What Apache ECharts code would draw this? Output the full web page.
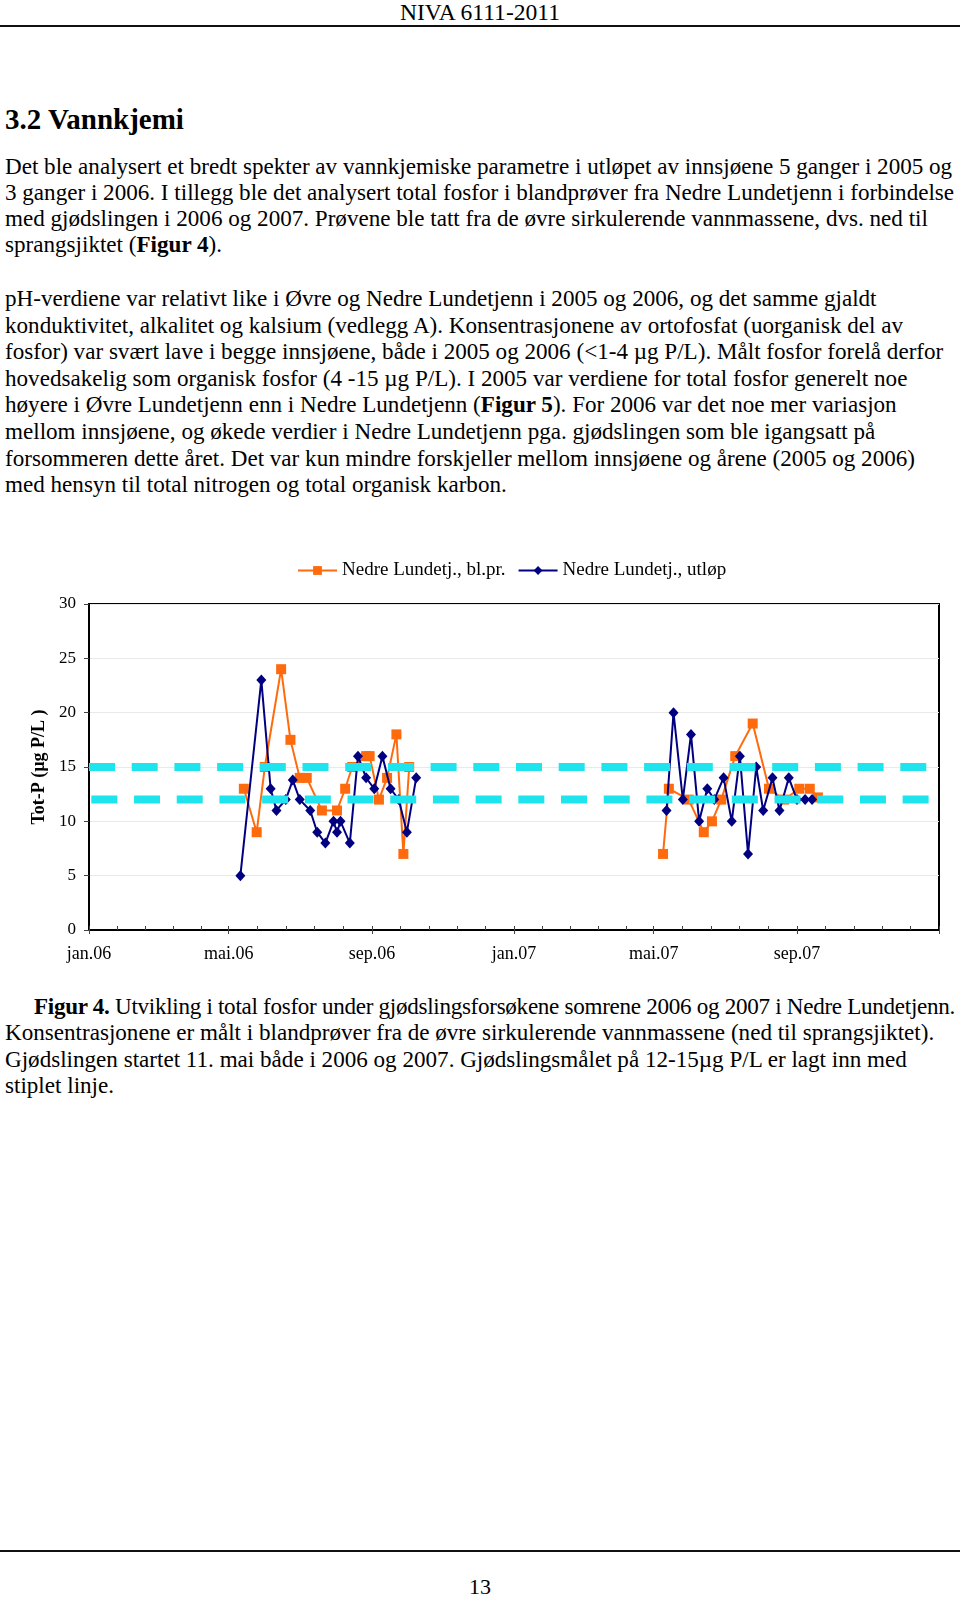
<!DOCTYPE html>
<html>
<head>
<meta charset="utf-8">
<script src="https://cdn.jsdelivr.net/npm/echarts@6/dist/echarts.min.js"></script>
<style>
  html, body { margin: 0; padding: 0; background: #fff; }
  body { width: 960px; height: 1597px; position: relative; overflow: hidden;
         font-family: 'Liberation Serif', 'Times New Roman', serif; color: #000; }
  .t { position: absolute; white-space: pre; font-size: 23.1px; }
  .rule { position: absolute; left: 0; width: 960px; height: 2px; background: #111; }
  #chart { position: absolute; left: 0; top: 540px; width: 960px; height: 440px; }
</style>
</head>
<body>
<div class="t" style="left:0;width:960px;text-align:center;top:-1px;line-height:26px;font-size:23.6px;">NIVA 6111-2011</div>
<div class="rule" style="top:25px;"></div>

<div class="t" style="left:5px;top:103px;font-size:29px;font-weight:bold;line-height:33px;">3.2 Vannkjemi</div>

<div class="t" style="left:5px;top:153px;line-height:26px;">Det ble analysert et bredt spekter av vannkjemiske parametre i utløpet av innsjøene 5 ganger i 2005 og
3 ganger i 2006. I tillegg ble det analysert total fosfor i blandprøver fra Nedre Lundetjenn i forbindelse
med gjødslingen i 2006 og 2007. Prøvene ble tatt fra de øvre sirkulerende vannmassene, dvs. ned til
sprangsjiktet (<b>Figur 4</b>).</div>

<div class="t" style="left:5px;top:285px;line-height:26.6px;">pH-verdiene var relativt like i Øvre og Nedre Lundetjenn i 2005 og 2006, og det samme gjaldt
konduktivitet, alkalitet og kalsium (vedlegg A). Konsentrasjonene av ortofosfat (uorganisk del av
fosfor) var svært lave i begge innsjøene, både i 2005 og 2006 (&lt;1-4 µg P/L). Målt fosfor forelå derfor
hovedsakelig som organisk fosfor (4 -15 µg P/L). I 2005 var verdiene for total fosfor generelt noe
høyere i Øvre Lundetjenn enn i Nedre Lundetjenn (<b>Figur 5</b>). For 2006 var det noe mer variasjon
mellom innsjøene, og økede verdier i Nedre Lundetjenn pga. gjødslingen som ble igangsatt på
forsommeren dette året. Det var kun mindre forskjeller mellom innsjøene og årene (2005 og 2006)
med hensyn til total nitrogen og total organisk karbon.</div>

<div id="chart"></div>

<div class="t" id="cap1" style="left:34px;top:993px;line-height:26.3px;"><b>Figur 4.</b> Utvikling i total fosfor under gjødslingsforsøkene somrene 2006 og 2007 i Nedre Lundetjenn.</div>
<div class="t" style="left:5px;top:1019.3px;line-height:26.3px;">Konsentrasjonene er målt i blandprøver fra de øvre sirkulerende vannmassene (ned til sprangsjiktet).
Gjødslingen startet 11. mai både i 2006 og 2007. Gjødslingsmålet på 12-15µg P/L er lagt inn med
stiplet linje.</div>

<div class="rule" style="top:1550px;"></div>
<div class="t" style="left:0;width:960px;text-align:center;top:1574px;font-size:22px;line-height:26px;">13</div>

<script>
// fit first caption line to the width it has on the page (34px .. 955px)
(function () {
  const el = document.getElementById('cap1');
  const w = el.getBoundingClientRect().width;
  const n = el.textContent.length;
  const target = 921;
  if (w > target) el.style.letterSpacing = ((target - w) / n).toFixed(3) + 'px';
})();

// ---- data ----
const seriesNames = ['Nedre Lundetj., bl.pr.', 'Nedre Lundetj., utløp'];

const blprDates = ['2006-05-14','2006-05-25','2006-06-01','2006-06-15','2006-06-23','2006-07-01','2006-07-07',
  '2006-07-20','2006-08-02','2006-08-09','2006-08-15','2006-08-27','2006-08-30','2006-09-07','2006-09-14',
  '2006-09-22','2006-09-28','2006-10-03',
  '2007-01-01',
  '2007-05-09','2007-05-14','2007-05-31','2007-06-13','2007-06-20','2007-06-28','2007-07-10','2007-07-25',
  '2007-08-08','2007-08-21','2007-09-03','2007-09-12','2007-09-19'];
const blprValues = [13, 9, 15, 24, 17.5, 14, 14, 11, 11, 13, 15, 16, 16, 12, 14, 18, 7, 15,
  null,
  7, 13, 12, 9, 10, 12, 16, 19, 13, 12, 13, 13, 12.2];

const utlopDates = ['2006-05-11','2006-05-29','2006-06-06','2006-06-11','2006-06-19','2006-06-25','2006-07-01',
  '2006-07-10','2006-07-16','2006-07-23','2006-07-30','2006-08-02','2006-08-05','2006-08-13','2006-08-20',
  '2006-08-27','2006-09-03','2006-09-10','2006-09-17','2006-09-24','2006-10-01','2006-10-09',
  '2007-01-01',
  '2007-05-12','2007-05-18','2007-05-26','2007-06-02','2007-06-09','2007-06-16','2007-06-22','2007-06-30',
  '2007-07-07','2007-07-14','2007-07-21','2007-07-28','2007-08-03','2007-08-11','2007-08-17','2007-08-25',
  '2007-09-01','2007-09-08','2007-09-14'];
const utlopValues = [5, 23, 13, 11, 12, 13.8, 12, 11, 9, 8, 10, 9, 10, 8, 16, 14, 13, 16, 13, 12, 9, 14,
  null,
  11, 20, 12, 18, 10, 13, 12, 14, 10, 16, 7, 15, 11, 14, 11, 14, 12, 12, 12];

// target lines (gjødslingsmål 12-15 µg P/L)
const target15Dates = ['2006-01-01', '2008-01-01'];
const target15Values = [15, 15];
const target12Dates = ['2006-01-03', '2007-12-27'];
const target12Values = [12, 12];

// axis
const xMin = '2006-01-01', xMax = '2008-01-01';
const majorTickDates = ['2006-01-01','2006-05-01','2006-09-01','2007-01-01','2007-05-01','2007-09-01','2008-01-01'];
const majorTickLabels = ['jan.06','mai.06','sep.06','jan.07','mai.07','sep.07',''];
const yMin = 0, yMax = 30, yInterval = 5;

// ---- helpers ----
function T(s) { const p = s.split('-').map(Number); return Date.UTC(p[0], p[1] - 1, p[2]); }
function pairs(dates, vals) { return dates.map((d, i) => [T(d), vals[i] == null ? '-' : vals[i]]); }

const majors = majorTickDates.map(T);
const minors = [];
for (let i = 0; i < majors.length - 1; i++) {
  for (let k = 0; k < 5; k++) minors.push(majors[i] + (majors[i + 1] - majors[i]) * k / 5);
}
minors.push(majors[majors.length - 1]);
const labelMap = {};
majors.forEach((m, i) => { labelMap[m] = majorTickLabels[i]; });

const serif = 'Liberation Serif';
const cyan = '#1fe4ee';

const chart = echarts.init(document.getElementById('chart'), null, { renderer: 'canvas' });
chart.setOption({
  animation: false,
  backgroundColor: 'transparent',
  textStyle: { fontFamily: serif, color: '#000' },
  legend: {
    data: seriesNames,
    left: 292, top: 16,
    itemWidth: 39, itemHeight: 11, itemGap: 12,
    textStyle: { fontFamily: serif, fontSize: 19, color: '#000' }
  },
  grid: { left: 89, right: 21, top: 64, bottom: 50, show: true, borderColor: '#000', borderWidth: 2, backgroundColor: 'transparent' },
  xAxis: [{
    type: 'value', min: T(xMin), max: T(xMax),
    axisLine: { show: true, lineStyle: { color: '#000', width: 2 } },
    axisTick: { show: true, inside: true, length: 4, customValues: minors, lineStyle: { color: '#444', width: 1 } },
    axisLabel: { show: false },
    splitLine: { show: false }
  }, {
    type: 'value', min: T(xMin), max: T(xMax), position: 'bottom',
    axisLine: { show: false },
    axisTick: { show: true, inside: false, length: 4, customValues: majors, lineStyle: { color: '#444', width: 1 } },
    axisLabel: { show: true, customValues: majors.slice(0, 6), margin: 15, fontFamily: serif, fontSize: 18, color: '#000',
      formatter: v => labelMap[v] || '' },
    splitLine: { show: false }
  }],
  yAxis: {
    type: 'value', min: yMin, max: yMax, interval: yInterval,
    name: 'Tot-P (µg P/L )', nameLocation: 'middle', nameGap: 38, nameRotate: 90,
    nameTextStyle: { fontFamily: serif, fontSize: 18, fontWeight: 'bold', color: '#000' },
    axisLine: { show: true, lineStyle: { color: '#000', width: 2 } },
    axisTick: { show: true, inside: false, length: 5, lineStyle: { color: '#444' } },
    axisLabel: { margin: 13, fontFamily: serif, fontSize: 17, color: '#000' },
    splitLine: { show: true, lineStyle: { color: '#e9e9e9', width: 1 } }
  },
  series: [{
    name: seriesNames[0], type: 'line', data: pairs(blprDates, blprValues),
    symbol: 'rect', symbolSize: 10, connectNulls: false,
    lineStyle: { color: '#ff6a0d', width: 2 }, itemStyle: { color: '#ff6a0d' }, z: 3
  }, {
    name: seriesNames[1], type: 'line', data: pairs(utlopDates, utlopValues),
    symbol: 'diamond', symbolSize: [10, 11], connectNulls: false,
    lineStyle: { color: '#000080', width: 2 }, itemStyle: { color: '#000080' }, z: 4
  }, {
    name: 'mål 15', type: 'line', data: pairs(target15Dates, target15Values),
    showSymbol: false, symbol: 'none', silent: true, z: 5,
    lineStyle: { color: cyan, width: 8, type: [26, 16.7], cap: 'butt' }
  }, {
    name: 'mål 12', type: 'line', data: pairs(target12Dates, target12Values),
    showSymbol: false, symbol: 'none', silent: true, z: 5,
    lineStyle: { color: cyan, width: 8, type: [26, 16.7], cap: 'butt' }
  }]
});
</script>
</body>
</html>
